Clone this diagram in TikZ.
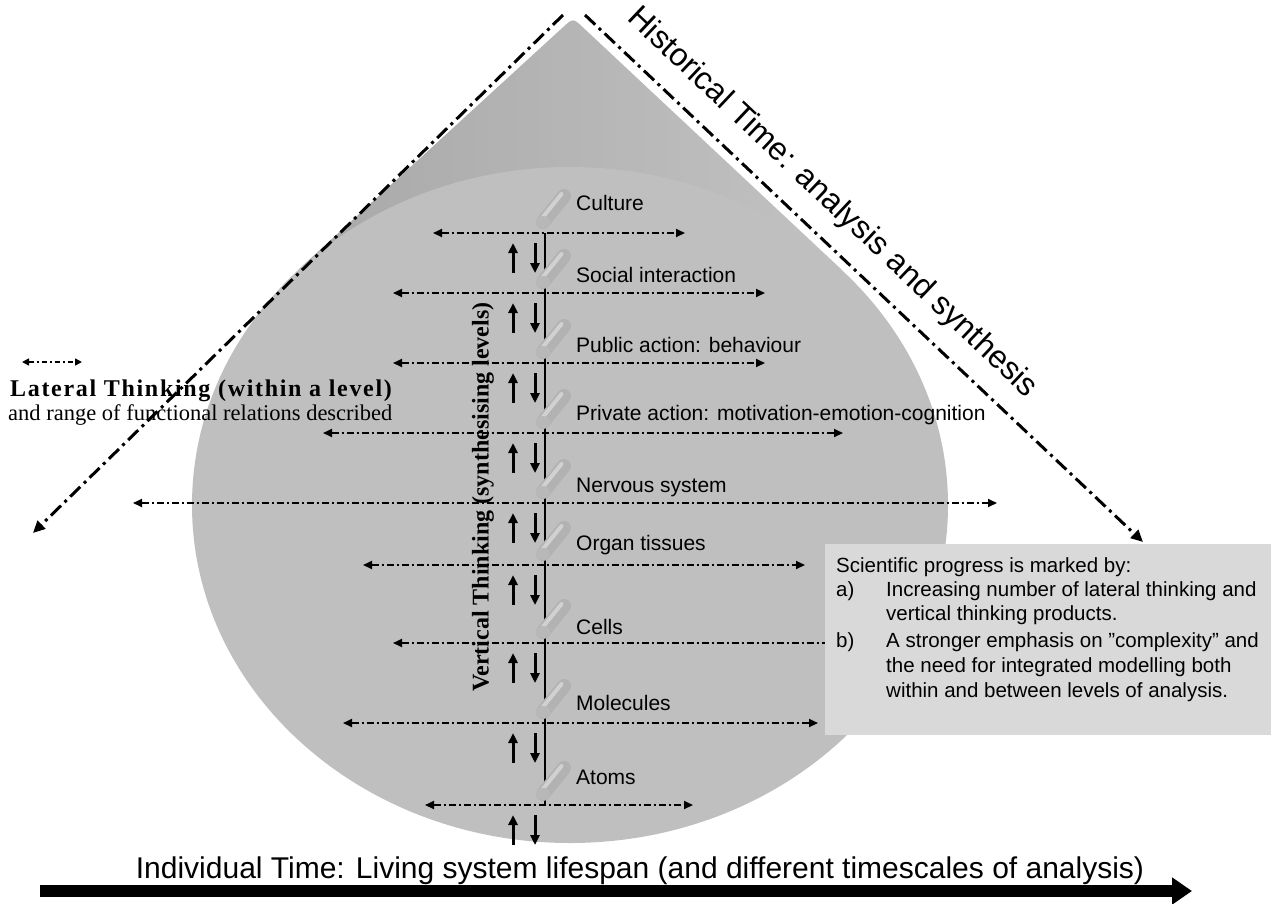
\documentclass[tikz,border=0pt]{standalone}
\usepackage{fontspec}
\setmainfont{Liberation Serif}
\setsansfont{Liberation Sans}
\usetikzlibrary{arrows.meta,calc}
\definecolor{coneL}{gray}{0.66}
\definecolor{coneM}{gray}{0.60}
\definecolor{coneR}{gray}{0.76}
\definecolor{basec}{gray}{0.75}
\definecolor{boxc}{gray}{0.85}
\definecolor{cylA}{gray}{0.70}
\definecolor{cylHi}{gray}{0.82}
\definecolor{cylFace}{gray}{0.72}
\begin{document}
\begin{tikzpicture}[x=1pt,y=-1pt,
  lvl/.style={font=\sffamily\fontsize{21}{25}\selectfont, anchor=base west, inner sep=0pt},
  boxtxt/.style={font=\sffamily\fontsize{20.5}{24}\selectfont, anchor=base west, inner sep=0pt},
  latarrow/.style={draw=black, line width=1.8pt, dash pattern=on 7pt off 3pt on 2pt off 3pt,
     {Triangle[length=9pt,width=8pt]}-{Triangle[length=9pt,width=8pt]}},
  diagarrow/.style={draw=black, line width=3pt, dash pattern=on 14pt off 5pt on 3pt off 5pt,
     -{Triangle[length=12pt,width=11pt]}},
  vertarrow/.style={draw=black, line width=3pt, -{Triangle[length=10pt,width=9pt]}},
  serifbold/.style={font=\rmfamily\bfseries\fontsize{24}{28}\selectfont, inner sep=0pt},
  serifreg/.style={font=\rmfamily\fontsize{22.5}{27}\selectfont, inner sep=0pt},
]
\useasboundingbox (0,0) rectangle (1271,903);
\fill[white] (0,0) rectangle (1271,903);

% cone
\shade[left color=coneL, middle color=coneM, right color=coneR]
  (298,270) -- (562.7,27.5) .. controls (573,18) .. (583.2,27.6) -- (842,270) -- cycle;
% base ellipse
\fill[basec] (570,505) ellipse [x radius=378, y radius=338];

% lateral (within-level) arrows
\foreach \n/\d/\l/\r in {culture/233/433/685, social/293/393/765, public/363/393/765,
   private/433/323/843, nervous/503/133/997, organ/565/363/805, cells/643/393/900,
   molecules/723/343/818, atoms/805/425/693}{
  \coordinate (\n-L) at (\l,\d);
  \coordinate (\n-R) at (\r,\d);
  \draw[latarrow] (\n-L) -- (\n-R);
}

% vertical line
\coordinate (vtop) at (545,233);
\coordinate (vbot) at (545,805);
\draw[line width=1.6pt] (vtop) -- (vbot);

% cylinders
\foreach \d in {233,293,363,433,503,565,643,723,805}{
  \coordinate (cb) at (543,\d-11);
  \coordinate (ct) at (564,\d-37);
  \draw[line width=14pt, cylA, line cap=round] (cb) -- (ct);
  \draw[line width=4pt, cylHi, line cap=round] ($(cb)+(-2.5,-2)$) -- ($(ct)+(-2.5,-2)$);
  \fill[cylFace] (cb) ellipse [x radius=7, y radius=6];
}

% up / down arrows
\foreach \d in {233,293,363,433,503,565,643,723,805}{
  \coordinate (ua) at (513,\d+40);
  \coordinate (ub) at (513,\d+10);
  \coordinate (da) at (535,\d+10);
  \coordinate (db) at (535,\d+40);
  \draw[vertarrow] (ua) -- (ub);
  \draw[vertarrow] (da) -- (db);
}

% level labels
\node[lvl] (culture) at (576,210) {Culture};
\node[lvl] (social) at (576,282) {Social interaction};
\node[lvl] (public) at (576,352) {Public action: behaviour};
\node[lvl] (private) at (576,420) {Private action: motivation-emotion-cognition};
\node[lvl] (nervous) at (576,492) {Nervous system};
\node[lvl] (organ) at (576,550) {Organ tissues};
\node[lvl] (cells) at (576,634) {Cells};
\node[lvl] (molecules) at (576,710) {Molecules};
\node[lvl] (atoms) at (576,784) {Atoms};

% vertical thinking label
\node[serifbold, rotate=90] (vthink) at (483,497) {Vertical Thinking (synthesising levels)};

% diagonal dash-dot lines
\coordinate (dlS) at (563,15);
\coordinate (dlE) at (33,533);
\coordinate (drS) at (585,15);
\coordinate (drE) at (1143,542);
\draw[diagarrow] (dlS) -- (dlE);
\draw[diagarrow] (drS) -- (drE);

\node[font=\sffamily\fontsize{32}{36}\selectfont, rotate=-43.4, inner sep=0pt] (hist) at (832,203)
  {Historical Time: analysis and synthesis};

% lateral thinking legend
\coordinate (smL) at (22,362);
\coordinate (smR) at (82,362);
\draw[draw=black, line width=1.5pt, dash pattern=on 5pt off 3pt on 2pt off 3pt,
  {Triangle[length=7pt,width=7pt]}-{Triangle[length=7pt,width=7pt]}] (smL) -- (smR);
\node[serifbold, anchor=base west] (latA) at (10,396)
  {\addfontfeature{LetterSpace=7}Lateral Thinking (within a level)};
\node[serifreg, anchor=base west] (latB) at (8,420) {and range of functional relations described};

% box
\fill[boxc] (825,544) rectangle (1271,735);
\node[boxtxt] (b0) at (836,572) {Scientific progress is marked by:};
\node[boxtxt] (b1) at (836,596) {a)};
\node[boxtxt] (b1t) at (886,596) {Increasing number of lateral thinking and};
\node[boxtxt] (b2t) at (886,620) {vertical thinking products.};
\node[boxtxt] (b3) at (836,647) {b)};
\node[boxtxt] (b3t) at (886,647) {A stronger emphasis on "complexity" and};
\node[boxtxt] (b4t) at (886,672) {the need for integrated modelling both};
\node[boxtxt] (b5t) at (886,697) {within and between levels of analysis.};

% bottom
\node[font=\sffamily\fontsize{30}{34}\selectfont, anchor=base, inner sep=0pt] (indiv) at (640,878)
  {Individual Time: Living system lifespan (and different timescales of analysis)};
\coordinate (baL) at (40,891);
\coordinate (baR) at (1192,891);
\draw[line width=12pt, -{Triangle[length=20pt,width=26pt]}] (baL) -- (baR);
\end{tikzpicture}
\end{document}
